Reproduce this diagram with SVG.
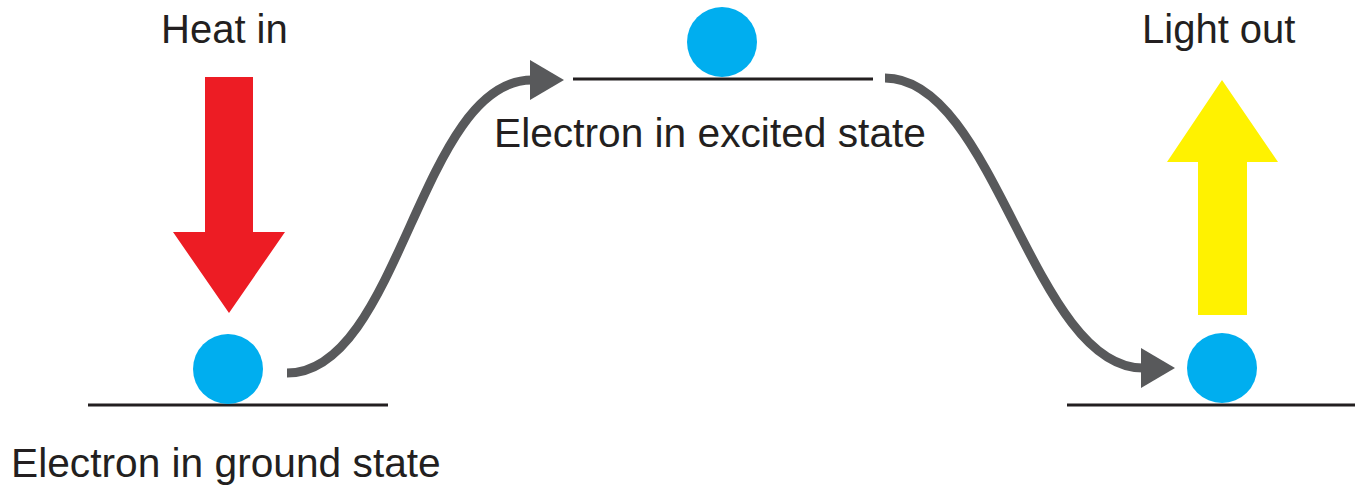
<svg xmlns="http://www.w3.org/2000/svg" width="1355" height="489" viewBox="0 0 1355 489">
<style>
.lbl{font-family:"Liberation Sans",Arial,sans-serif;font-size:40px;fill:#231F20}
.long{font-size:40.7px}
.level{stroke:#231F20;stroke-width:3;fill:none}
.electron{fill:#00AEEF}
.conn{stroke:#58595B;stroke-width:9;fill:none;stroke-linecap:butt}
</style>
<defs>
<marker id="ah" markerUnits="userSpaceOnUse" markerWidth="40" markerHeight="44" refX="2" refY="20" orient="auto">
<path d="M0,0 L34,20 L0,40 Z" fill="#58595B"/>
</marker>
</defs>
<rect width="1355" height="489" fill="#ffffff"/>
<g id="ground-state">
<line class="level" x1="88" y1="405" x2="388" y2="405"/>
<circle class="electron" cx="228" cy="369" r="35"/>
<text class="lbl long" x="11" y="477">Electron in ground state</text>
</g>
<g id="heat-in">
<text class="lbl" x="161" y="43">Heat in</text>
<polygon points="205,77 253,77 253,232 285,232 229,313 173,232 205,232" fill="#ED1C24"/>
</g>
<g id="excited-state">
<line class="level" x1="573" y1="79" x2="873" y2="79"/>
<circle class="electron" cx="722" cy="42" r="35"/>
<text class="lbl long" x="494" y="147">Electron in excited state</text>
</g>
<g id="final-state">
<line class="level" x1="1067" y1="405" x2="1355" y2="405"/>
<circle class="electron" cx="1222" cy="368" r="35"/>
</g>
<g id="light-out">
<text class="lbl" x="1142" y="43">Light out</text>
<polygon points="1198,315 1247,315 1247,162 1278,162 1222,80 1167,162 1198,162" fill="#FFF200"/>
</g>
<g id="connectors">
<path class="conn" d="M287,373 C400,373 420,80 532,80" marker-end="url(#ah)"/>
<path class="conn" d="M885,78 C995,78 1033,368 1143,368" marker-end="url(#ah)"/>
</g>
</svg>
